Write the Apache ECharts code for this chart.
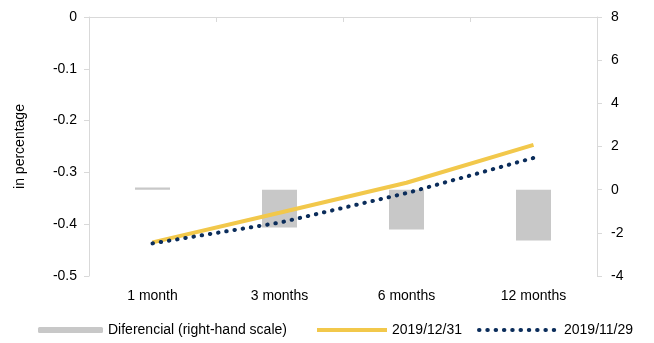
<!DOCTYPE html>
<html>
<head>
<meta charset="utf-8">
<script src="https://cdn.jsdelivr.net/npm/echarts@6/dist/echarts.min.js"></script>
<style>html,body{margin:0;padding:0;background:#fff;}#c{width:654px;height:343px;}</style>
</head>
<body>
<div id="c"></div>
<script>
const categories = ['1 month', '3 months', '6 months', '12 months'];
const diferencial = [0.1, -1.75, -1.85, -2.35];
const dec31 = [-0.435, -0.378, -0.320, -0.247];
const nov29 = [-0.437, -0.397, -0.340, -0.272];
const seriesNames = ['Diferencial (right-hand scale)', '2019/12/31', '2019/11/29'];

const FONT = 'Liberation Sans, Arial, sans-serif';
const AX = '#d9d9d9';
const legendText = {fontSize: 14, color: '#000', fontFamily: FONT};
const chart = echarts.init(document.getElementById('c'), null, {renderer: 'canvas'});
chart.setOption({
  animation: false,
  textStyle: {fontFamily: FONT},
  grid: {left: 89, right: 57, top: 17, bottom: 67, containLabel: false},
  legend: [
    {data: [seriesNames[0]], left: 38, top: 323, padding: 0, itemWidth: 65, itemHeight: 6,
     textStyle: legendText},
    {data: [seriesNames[1]], left: 315, top: 323, padding: 0, itemWidth: 70, itemHeight: 6,
     itemStyle: {opacity: 0}, lineStyle: {width: 4}, textStyle: legendText},
    {data: [seriesNames[2]], left: 477, top: 323, padding: 0, itemWidth: 80, itemHeight: 6,
     itemStyle: {opacity: 0}, lineStyle: {width: 4, type: [0.5, 7.8], cap: 'round'},
     textStyle: legendText}
  ],
  xAxis: [
    {type: 'category', data: categories, position: 'bottom',
     axisLine: {show: false}, axisTick: {show: false},
     axisLabel: {fontSize: 14, color: '#000', margin: 13, fontFamily: FONT}},
    {type: 'category', data: categories, position: 'top',
     axisLine: {show: true, onZero: false, lineStyle: {color: AX, width: 1}},
     axisTick: {show: true, inside: true, length: 5, lineStyle: {color: AX}},
     axisLabel: {show: false}}
  ],
  yAxis: [
    {type: 'value', min: -0.5, max: 0, interval: 0.1, position: 'left',
     name: 'in percentage', nameLocation: 'middle', nameGap: 62, nameRotate: 90,
     nameTextStyle: {fontSize: 14, color: '#000', fontFamily: FONT},
     axisLine: {show: true, lineStyle: {color: AX}},
     axisTick: {show: true, length: 5, lineStyle: {color: AX}},
     splitLine: {show: false},
     axisLabel: {fontSize: 14, color: '#000', margin: 12, fontFamily: FONT,
       formatter: v => String(Math.round(v * 10) / 10)}},
    {type: 'value', min: -4, max: 8, interval: 2, position: 'right',
     axisLine: {show: true, lineStyle: {color: AX}},
     axisTick: {show: true, length: 5, lineStyle: {color: AX}},
     splitLine: {show: false},
     axisLabel: {fontSize: 14, color: '#000', margin: 14, fontFamily: FONT}}
  ],
  series: [
    {name: seriesNames[0], type: 'bar', xAxisIndex: 0, yAxisIndex: 1, data: diferencial,
     barWidth: 35, itemStyle: {color: '#c8c8c8'}},
    {name: seriesNames[1], type: 'line', xAxisIndex: 0, yAxisIndex: 0, data: dec31,
     symbol: 'none', lineStyle: {color: '#f2c84b', width: 4}, itemStyle: {color: '#f2c84b'}},
    {name: seriesNames[2], type: 'line', xAxisIndex: 0, yAxisIndex: 0, data: nov29,
     symbol: 'none', lineStyle: {color: '#0b2d5b', width: 4, type: [0.5, 7.8], cap: 'round'},
     itemStyle: {color: '#0b2d5b'}}
  ]
});
</script>
</body>
</html>
